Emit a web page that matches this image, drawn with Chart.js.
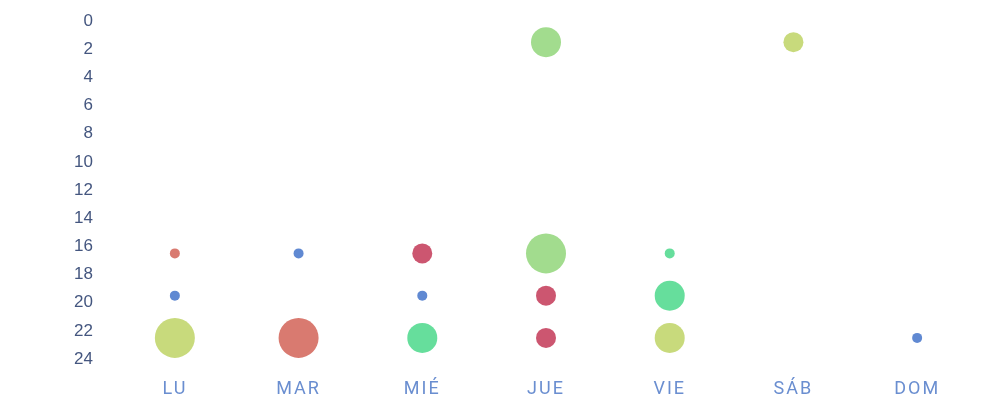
<!DOCTYPE html>
<html>
<head>
<meta charset="utf-8">
<script src="https://cdn.jsdelivr.net/npm/chart.js@4"></script>
<style>
  html, body { margin: 0; padding: 0; background: #ffffff; }
  #wrap { width: 1007px; height: 418px; }
</style>
</head>
<body>
<div id="wrap"><canvas id="chart" width="1007" height="418"></canvas></div>
<script>
const days = ["LU", "MAR", "MIÉ", "JUE", "VIE", "SÁB", "DOM"];
const hourTicks = [0, 2, 4, 6, 8, 10, 12, 14, 16, 18, 20, 22, 24];

// each colour is one series: day, hour, bubble size
const redDays = ["LU", "MAR"];
const redHours = [16.5, 22.5];
const redSizes = [5, 20];

const blueDays = ["LU", "MAR", "MIÉ", "DOM"];
const blueHours = [19.5, 16.5, 19.5, 22.5];
const blueSizes = [5, 5, 5, 5];

const limeDays = ["LU", "VIE", "SÁB"];
const limeHours = [22.5, 22.5, 1.5];
const limeSizes = [20, 15, 10];

const greenDays = ["JUE", "JUE"];
const greenHours = [1.5, 16.5];
const greenSizes = [15, 20];

const tealDays = ["MIÉ", "VIE", "VIE"];
const tealHours = [22.5, 16.5, 19.5];
const tealSizes = [15, 5, 15];

const crimsonDays = ["MIÉ", "JUE", "JUE"];
const crimsonHours = [16.5, 19.5, 22.5];
const crimsonSizes = [10, 10, 10];

function makeSeries(label, ds, hs, rs, color) {
    return {
        label: label,
        data: ds.map((d, i) => ({ x: d, y: hs[i], r: rs[i] })),
        backgroundColor: color,
        borderWidth: 0,
        hoverBorderWidth: 0
    };
}

// spaced-out day labels on the x axis
const spacedLabels = {
    id: "spacedLabels",
    beforeDraw(chart) {
        const sc = chart.scales.x;
        if (sc._spaced) return;
        const orig = sc.drawLabels;
        sc.drawLabels = function (area) {
            this.ctx.save();
            this.ctx.letterSpacing = "2px";
            orig.call(this, area);
            this.ctx.restore();
        };
        sc._spaced = true;
    }
};

const ctx = document.getElementById("chart").getContext("2d");
new Chart(ctx, {
    type: "bubble",
    data: {
        labels: days,
        datasets: [
            makeSeries("Rojo", redDays, redHours, redSizes, "#d97a70"),
            makeSeries("Azul", blueDays, blueHours, blueSizes, "#6089d2"),
            makeSeries("Lima", limeDays, limeHours, limeSizes, "#c8da7c"),
            makeSeries("Verde", greenDays, greenHours, greenSizes, "#a2dc8e"),
            makeSeries("Turquesa", tealDays, tealHours, tealSizes, "#66de9c"),
            makeSeries("Carmesí", crimsonDays, crimsonHours, crimsonSizes, "#cc5670")
        ]
    },
    plugins: [spacedLabels],
    options: {
        responsive: false,
        animation: false,
        layout: { padding: { top: 21, right: 28, bottom: 0, left: 0 } },
        plugins: {
            legend: { display: false },
            tooltip: { enabled: false }
        },
        scales: {
            x: {
                type: "category",
                labels: days,
                offset: true,
                grid: { display: false, drawTicks: false },
                border: { display: false },
                ticks: {
                    color: "#6a8ed0",
                    font: { family: "Roboto", size: 18 },
                    padding: 20
                },
                afterFit: (s) => { s.height = 59; }
            },
            y: {
                reverse: true,
                min: 0,
                max: 24,
                afterBuildTicks: (s) => { s.ticks = hourTicks.map(v => ({ value: v })); },
                grid: { display: false, drawTicks: false },
                border: { display: false },
                ticks: {
                    color: "#44567f",
                    font: { family: "Liberation Sans", size: 17 },
                    padding: 20
                },
                afterFit: (s) => {
                    s.width = 113;
                    s.paddingTop = 0;
                    s.paddingBottom = 0;
                }
            }
        }
    }
});
</script>
</body>
</html>
